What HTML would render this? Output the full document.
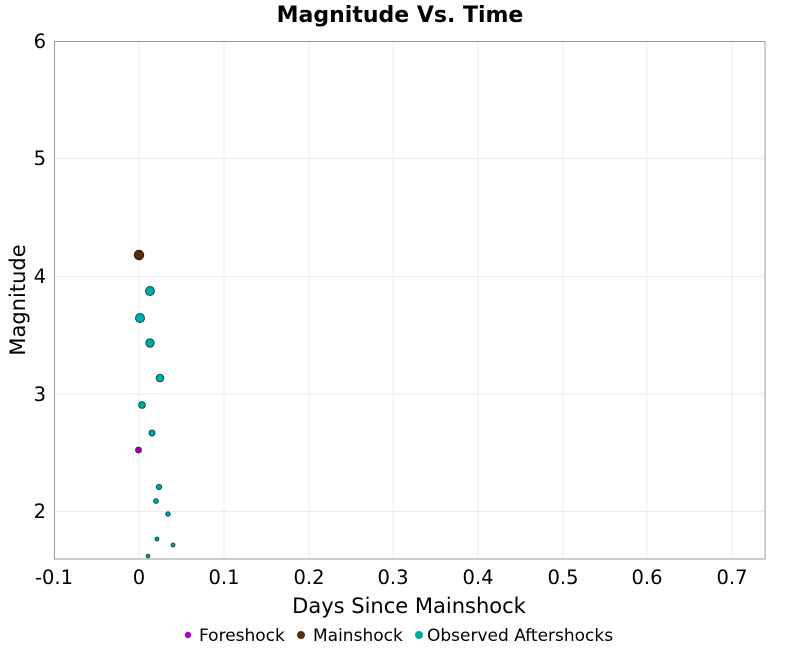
<!DOCTYPE html>
<html><head><style>body{margin:0;background:#fff;}</style></head><body>
<svg width="800" height="650" xmlns="http://www.w3.org/2000/svg" font-family="'DejaVu Sans','Liberation Sans',sans-serif">
<rect width="800" height="650" fill="#fff"/>
<text x="400" y="22" text-anchor="middle" font-size="22" font-weight="bold">Magnitude Vs. Time</text>
<g stroke="#ececec" stroke-width="1">
<line x1="139" y1="41" x2="139" y2="559"/><line x1="224" y1="41" x2="224" y2="559"/><line x1="309" y1="41" x2="309" y2="559"/><line x1="393" y1="41" x2="393" y2="559"/><line x1="478" y1="41" x2="478" y2="559"/><line x1="563" y1="41" x2="563" y2="559"/><line x1="647" y1="41" x2="647" y2="559"/><line x1="732" y1="41" x2="732" y2="559"/>
<line x1="54" y1="158.5" x2="765" y2="158.5"/><line x1="54" y1="276.5" x2="765" y2="276.5"/><line x1="54" y1="394" x2="765" y2="394"/><line x1="54" y1="511.5" x2="765" y2="511.5"/>
</g>
<rect x="54.5" y="41.5" width="710.5" height="517.5" fill="none" stroke="#999"/>
<g font-size="19.5" text-anchor="middle">
<text x="54" y="584">-0.1</text><text x="139" y="584">0</text><text x="224" y="584">0.1</text><text x="309" y="584">0.2</text><text x="393" y="584">0.3</text><text x="478" y="584">0.4</text><text x="563" y="584">0.5</text><text x="647" y="584">0.6</text><text x="732" y="584">0.7</text>
</g>
<g font-size="19.5" text-anchor="end">
<text x="46" y="48">6</text><text x="46" y="165">5</text><text x="46" y="283">4</text><text x="46" y="401">3</text><text x="46" y="518">2</text>
</g>
<text x="409" y="613" text-anchor="middle" font-size="21">Days Since Mainshock</text>
<text transform="translate(25,300) rotate(-90)" text-anchor="middle" font-size="21">Magnitude</text>
<g fill="#00a8a8" stroke="#005555" stroke-width="1">
<circle cx="150" cy="291" r="4.5"/><circle cx="140" cy="318" r="4.5"/><circle cx="150" cy="343" r="4.2"/><circle cx="160" cy="378" r="3.8"/><circle cx="142" cy="405" r="3.4"/><circle cx="152" cy="433" r="3"/><circle cx="159" cy="487" r="2.6"/><circle cx="156" cy="501" r="2.4"/><circle cx="168" cy="514" r="2.2"/><circle cx="157" cy="539" r="1.9"/><circle cx="173" cy="545" r="1.9"/><circle cx="148" cy="556" r="1.8"/>
</g>
<circle cx="138.5" cy="450" r="3" fill="#a000a8" stroke="#500050" stroke-width="0.8"/>
<circle cx="139" cy="255" r="4.7" fill="#5a2e08" stroke="#2a1400" stroke-width="1"/>
<g font-size="17">
<circle cx="188" cy="635" r="3.2" fill="#b000c0"/><text x="199" y="641">Foreshock</text>
<circle cx="301" cy="635" r="4" fill="#5a2e08"/><text x="313" y="641">Mainshock</text>
<circle cx="419" cy="635" r="4" fill="#00a8a8"/><text x="427" y="641">Observed Aftershocks</text>
</g>
</svg>
</body></html>
